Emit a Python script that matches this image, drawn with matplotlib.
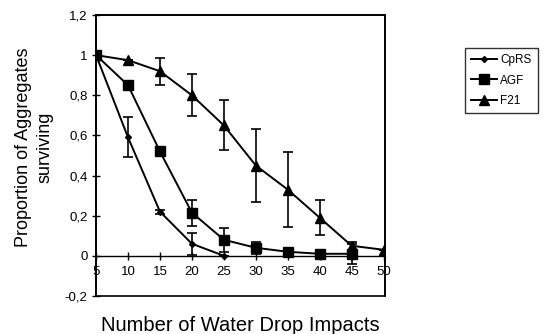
import matplotlib
matplotlib.use('Agg')
from matplotlib import pyplot as plt
from matplotlib.patches import Rectangle
from matplotlib.lines import Line2D
import numpy as np

plt.rcParams['font.family'] = ['Liberation Sans', 'DejaVu Sans']

# data
impacts = [5, 10, 15, 20, 25, 30, 35, 40, 45, 50]

cprs_x = [5, 10, 15, 20, 25]
cprs_y = [1.0, 0.59, 0.22, 0.06, 0.0]
cprs_err = [0.0, 0.10, 0.01, 0.055, 0.0]

agf_x = [5, 10, 15, 20, 25, 30, 35, 40, 45]
agf_y = [1.0, 0.85, 0.52, 0.215, 0.08, 0.04, 0.02, 0.01, 0.01]
agf_err = [0.0, 0.0, 0.0, 0.065, 0.06, 0.03, 0.0, 0.0, 0.05]

f21_x = [5, 10, 15, 20, 25, 30, 35, 40, 45, 50]
f21_y = [1.0, 0.975, 0.92, 0.80, 0.65, 0.45, 0.33, 0.19, 0.05, 0.03]
f21_err = [0.0, 0.0, 0.068, 0.105, 0.125, 0.18, 0.185, 0.088, 0.02, 0.0]

yticks = [-0.2, 0, 0.2, 0.4, 0.6, 0.8, 1.0, 1.2]
ytick_labels = ['-0,2', '0', '0,2', '0,4', '0,6', '0,8', '1', '1,2']

fig = plt.figure(figsize=(5.49, 3.34), dpi=100)
ax = fig.add_axes([0.175, 0.114, 0.526, 0.841])

series = [
    ('CpRS', cprs_x, cprs_y, cprs_err, 'D', 3),
    ('AGF', agf_x, agf_y, agf_err, 's', 7.5),
    ('F21', f21_x, f21_y, f21_err, '^', 7),
]
handles = []
for name, x, y, err, mk, ms in series:
    ax.errorbar(x, y, yerr=err, color='black', lw=1.4, marker=mk,
                markersize=ms, capsize=3.5, elinewidth=1.2,
                capthick=1.2, zorder=3)
    handles.append(Line2D([], [], color='black', lw=1.4, marker=mk,
                          markersize=ms, label=name))

ax.set_xlim(5, 50.2)
ax.set_ylim(-0.2, 1.2)
ax.set_xticks(impacts)
ax.set_yticks(yticks)
ax.set_yticklabels(ytick_labels)

# x axis crosses at 0, like the original
ax.spines['bottom'].set_position(('data', 0))
ax.spines['bottom'].set_linewidth(1.0)
for s in ['top', 'right', 'left']:
    ax.spines[s].set_linewidth(1.2)
ax.add_patch(Rectangle((0, 0), 1, 1, transform=ax.transAxes, fill=False,
                       lw=1.2, color='black', clip_on=False))

ax.tick_params(axis='both', direction='inout', length=6, width=1,
               labelsize=9.5, pad=3)
ax.tick_params(axis='x', pad=4)

ax.set_xlabel('Number of Water Drop Impacts', fontsize=14.5)
ax.xaxis.set_label_coords(0.5, -0.07)
ax.set_ylabel('Proportion of Aggregates\nsurviving', fontsize=13,
              linespacing=1.35)
ax.yaxis.set_label_coords(-0.148, 0.53)

fig.legend(handles=handles, loc='upper left', bbox_to_anchor=(0.847, 0.857),
           fontsize=8.5, frameon=True, fancybox=False, edgecolor='black',
           handlelength=2.2, handletextpad=0.3, borderpad=0.5,
           labelspacing=0.75, borderaxespad=0)

fig.savefig('out.png', dpi=100)
